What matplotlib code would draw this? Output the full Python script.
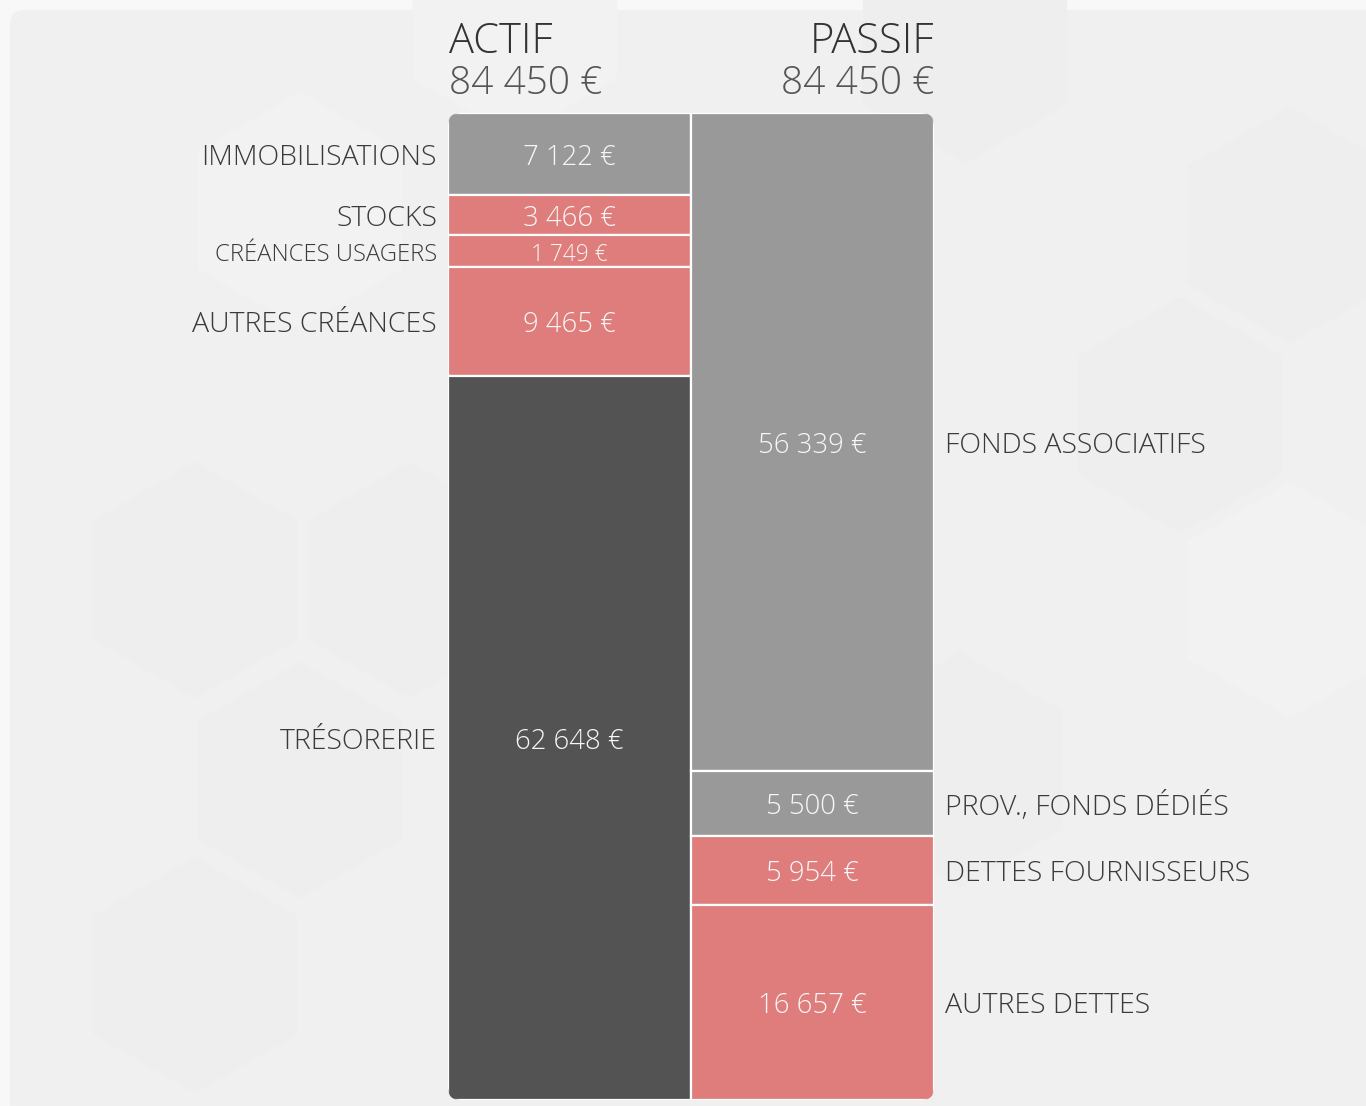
import numpy as np
import matplotlib
matplotlib.use('Agg')
import matplotlib.pyplot as plt
from matplotlib.patches import FancyBboxPatch, RegularPolygon

#data
actif_labels = ['IMMOBILISATIONS', 'STOCKS', 'CRÉANCES USAGERS', 'AUTRES CRÉANCES', 'TRÉSORERIE']
actif_values = [7122, 3466, 1749, 9465, 62648]
actif_kinds = ['fixe', 'creance', 'creance', 'creance', 'tresor']
passif_labels = ['FONDS ASSOCIATIFS', 'PROV., FONDS DÉDIÉS', 'DETTES FOURNISSEURS', 'AUTRES DETTES']
passif_values = [56339, 5500, 5954, 16657]
passif_kinds = ['fixe', 'fixe', 'creance', 'creance']
titles = ['ACTIF', 'PASSIF']

colors = {'fixe': '#999999', 'creance': '#df7c7c', 'tresor': '#535353'}
txt_dark = '#3a3a3a'
fam = ['Open Sans', 'DejaVu Sans']
min_share = 0.0325  # small blocks get a minimum height


def euro(v):
    return f'{v:,}'.replace(',', ' ') + ' €'


def display_heights(values):
    tot = sum(values)
    h = np.maximum(np.array(values, float), min_share * tot)
    return h * tot / h.sum()


W, H = 1366, 1106
fig = plt.figure(figsize=(W / 100, H / 100), dpi=100, facecolor='#f8f8f8')

# background panel + faint hexagons
bg = fig.add_axes([0, 0, 1, 1])
bg.set_xlim(0, W)
bg.set_ylim(H, 0)
bg.axis('off')
bg.add_patch(FancyBboxPatch((10, 10), W + 20, H, boxstyle='round,pad=0,rounding_size=14',
                            fc='#f0f0f0', ec='none'))
for cx, cy, c in [(195, 580, '#eeeeee'), (410, 580, '#eeeeee'), (300, 780, '#eeeeee'),
                  (195, 975, '#eeeeee'), (1290, 225, '#eeeeee'), (1180, 415, '#eeeeee'),
                  (965, 45, '#eeeeee'), (300, 210, '#f2f2f2'), (515, 20, '#f2f2f2'),
                  (960, 770, '#eeeeee'), (1290, 600, '#f2f2f2')]:
    bg.add_patch(RegularPolygon((cx, cy), 6, radius=118, orientation=0, fc=c, ec='none'))

# bars
total = sum(actif_values)
ax = fig.add_axes([448 / W, (H - 1100) / H, (934 - 448) / W, (1100 - 113) / H])
ax.set_xlim(-0.5, 1.5)
ax.set_ylim(total, 0)
ax.axis('off')
ax.patch.set_alpha(0)

clip = FancyBboxPatch((-0.5, 0), 2, total, boxstyle='round,pad=0,rounding_size=0.05',
                      mutation_aspect=total / 2 * 0.5, transform=ax.transData,
                      fc='none', ec='none')
ax.add_patch(clip)

for col, (labels, values, kinds) in enumerate([(actif_labels, actif_values, actif_kinds),
                                               (passif_labels, passif_values, passif_kinds)]):
    h = display_heights(values)
    bottoms = np.concatenate([[0], np.cumsum(h)[:-1]])
    bars = ax.bar([col] * len(values), h, bottom=bottoms, width=1,
                  color=[colors[k] for k in kinds], edgecolor='white', linewidth=1.6)
    for b in bars:
        b.set_clip_path(clip)
    for lab, v, b0, hh in zip(labels, values, bottoms, h):
        yc = b0 + hh / 2 + total * 0.0035
        small = hh / total < 0.04
        fs_val = 16.3 if small else 19.8
        fs_lab = 17.2 if small else 20.5
        ax.text(col, yc, euro(v), ha='center', va='center', color='#f7f7f7',
                fontsize=fs_val, family=fam, fontweight='light')
        if col == 0:
            ax.annotate(lab, (-0.5, yc), xytext=(-8, 0), textcoords='offset points',
                        ha='right', va='center', color=txt_dark, fontsize=fs_lab,
                        family=fam, fontweight='light')
        else:
            ax.annotate(lab, (1.5, yc), xytext=(8, 0), textcoords='offset points',
                        ha='left', va='center', color=txt_dark, fontsize=fs_lab,
                        family=fam, fontweight='light')

# titles
for x, ha, t, v in [(449 / W, 'left', titles[0], sum(actif_values)),
                    (934 / W, 'right', titles[1], sum(passif_values))]:
    fig.text(x, 1 - 53 / H, t, ha=ha, va='baseline', fontsize=30, color='#333333',
             family=fam, fontweight='light')
    fig.text(x, 1 - 94 / H, euro(v), ha=ha, va='baseline', fontsize=28, color='#555555',
             family=fam, fontweight='light')

fig.savefig('out.png', dpi=100, facecolor=fig.get_facecolor())
